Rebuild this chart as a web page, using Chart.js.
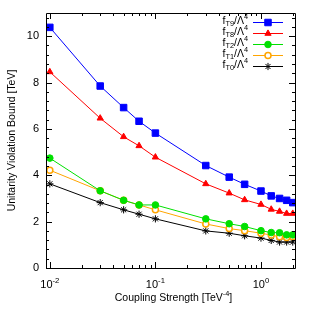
<!DOCTYPE html>
<html>
<head>
<meta charset="utf-8">
<script src="https://cdn.jsdelivr.net/npm/chart.js@4/dist/chart.umd.min.js"></script>
<style>
  html, body { margin: 0; padding: 0; background: #fff; }
  canvas { display: block; }
</style>
</head>
<body>
<canvas id="chart" width="314" height="314"></canvas>
<script>
// Data
var couplings = [0.01, 0.03, 0.05, 0.07, 0.1, 0.3, 0.5, 0.7, 1.0, 1.25, 1.5, 1.75, 2.0];
var boundT9 = [10.38, 7.85, 6.92, 6.33, 5.82, 4.42, 3.92, 3.61, 3.32, 3.11, 3.00, 2.92, 2.82];
var boundT8 = [8.46, 6.46, 5.66, 5.27, 4.78, 3.63, 3.23, 2.94, 2.74, 2.53, 2.44, 2.35, 2.35];
var boundT2 = [4.74, 3.33, 2.92, 2.72, 2.72, 2.12, 1.91, 1.79, 1.61, 1.53, 1.52, 1.43, 1.43];
var boundT1 = [4.22, 3.33, 2.92, 2.72, 2.51, 1.90, 1.70, 1.61, 1.50, 1.42, 1.35, 1.32, 1.35];
var boundT0 = [3.63, 2.82, 2.51, 2.32, 2.12, 1.60, 1.50, 1.39, 1.29, 1.19, 1.12, 1.12, 1.12];

var seriesNames = ['T9', 'T8', 'T2', 'T1', 'T0'];
var xTicks = [0.01, 0.1, 1];
var xTickExp = ['-2', '-1', '0'];
var yTicks = [0, 2, 4, 6, 8, 10];

var FONT = '"Liberation Sans", Arial, Helvetica, sans-serif';

function pts(ys) {
  return couplings.map(function(x, i) { return { x: x, y: ys[i] }; });
}

var styles = [
  { color: '#0000ff', fill: '#0000ff', style: 'rect', r: 4.6, bw: 1 },
  { color: '#ff0000', fill: '#ff0000', style: 'triangle', r: 3.6, bw: 1 },
  { color: '#00e000', fill: '#00e000', style: 'circle', r: 3.3, bw: 1 },
  { color: '#ffa500', fill: '#ffffff', style: 'circle', r: 3, bw: 1.5 },
  { color: '#000000', fill: '#000000', style: 'star', r: 3.6, bw: 1 }
];
var allBounds = [boundT9, boundT8, boundT2, boundT1, boundT0];

var datasets = allBounds.map(function(ys, i) {
  var s = styles[i];
  return {
    label: 'f' + seriesNames[i],
    data: pts(ys),
    showLine: true,
    borderColor: s.color,
    backgroundColor: s.fill,
    borderWidth: 1,
    pointStyle: s.style,
    pointRadius: s.r,
    pointBorderColor: s.color,
    pointBackgroundColor: s.fill,
    pointBorderWidth: s.bw
  };
});

// draw text with sub/superscript pieces: parts = [[text, 'n'|'sub'|'sup'], ...]
function measureParts(ctx, parts, size) {
  var w = 0;
  parts.forEach(function(p) {
    ctx.font = (p[1] === 'n' ? size : size * 0.7) + 'px ' + FONT;
    w += ctx.measureText(p[0]).width;
  });
  return w;
}
function drawParts(ctx, parts, x, y, size) {
  parts.forEach(function(p) {
    var sz = p[1] === 'n' ? size : size * 0.7;
    var dy = p[1] === 'sub' ? size * 0.3 : (p[1] === 'sup' ? -size * 0.38 : 0);
    ctx.font = sz + 'px ' + FONT;
    ctx.fillText(p[0], x, y + dy);
    x += ctx.measureText(p[0]).width;
  });
}

var framePlugin = {
  id: 'gnuplotFrame',
  afterDraw: function(chart) {
    var ctx = chart.ctx;
    var a = chart.chartArea;
    var xs = chart.scales.x, ys = chart.scales.y;
    ctx.save();
    ctx.strokeStyle = '#000';
    ctx.lineWidth = 1;
    ctx.beginPath();
    ctx.rect(Math.round(a.left) + 0.5, Math.round(a.top) + 0.5,
             Math.round(a.right - a.left), Math.round(a.bottom - a.top));
    ctx.stroke();

    // log x ticks, inside, mirrored
    ctx.beginPath();
    for (var d = -3; d <= 1; d++) {
      for (var k = 1; k <= 9; k++) {
        var v = k * Math.pow(10, d);
        if (v < xs.min || v > xs.max) continue;
        var px = Math.round(xs.getPixelForValue(v)) + 0.5;
        var len = k === 1 ? 6 : 3;
        ctx.moveTo(px, a.bottom); ctx.lineTo(px, a.bottom - len);
        ctx.moveTo(px, a.top); ctx.lineTo(px, a.top + len);
      }
    }
    // y ticks every 0.4, major every 2
    for (var j = 0; j * 0.4 <= ys.max + 1e-6; j++) {
      var py = Math.round(ys.getPixelForValue(j * 0.4)) + 0.5;
      var l = j % 5 === 0 ? 6 : 3;
      ctx.moveTo(a.left, py); ctx.lineTo(a.left + l, py);
      ctx.moveTo(a.right, py); ctx.lineTo(a.right - l, py);
    }
    ctx.stroke();

    // tick labels
    ctx.fillStyle = '#000';
    ctx.textBaseline = 'middle';
    ctx.textAlign = 'right';
    ctx.font = '11px ' + FONT;
    yTicks.forEach(function(v) {
      ctx.fillText(String(v), a.left - 7, ys.getPixelForValue(v));
    });
    ctx.textAlign = 'left';
    xTicks.forEach(function(v, i) {
      var parts = [['10', 'n'], [xTickExp[i], 'sup']];
      var w = measureParts(ctx, parts, 11);
      drawParts(ctx, parts, xs.getPixelForValue(v) - w / 2, a.bottom + 17, 11);
    });

    // axis titles
    var xt = [['Coupling Strength [TeV', 'n'], ['-4', 'sup'], [']', 'n']];
    var xw = measureParts(ctx, xt, 10.5);
    drawParts(ctx, xt, (a.left + a.right) / 2 - xw / 2 + 3, 298, 10.5);

    ctx.save();
    ctx.translate(12, (a.top + a.bottom) / 2);
    ctx.rotate(-Math.PI / 2);
    ctx.textAlign = 'center';
    ctx.font = '10.5px ' + FONT;
    ctx.fillText('Unitarity Violation Bound [TeV]', 0, 0);
    ctx.restore();

    // legend
    chart.data.datasets.forEach(function(ds, i) {
      var yy = 22 + i * 11;
      var parts = [['f', 'n'], [seriesNames[i], 'sub'], ['/\u039B', 'n'], ['4', 'sup']];
      var w = measureParts(ctx, parts, 10.5);
      ctx.fillStyle = '#000';
      ctx.textAlign = 'left';
      drawParts(ctx, parts, 248 - w, yy - 1, 10.5);
      ctx.strokeStyle = ds.borderColor;
      ctx.lineWidth = 1;
      ctx.beginPath();
      ctx.moveTo(253, yy + 0.5); ctx.lineTo(283, yy + 0.5);
      ctx.stroke();
      ctx.fillStyle = ds.pointBackgroundColor;
      ctx.strokeStyle = ds.pointBorderColor;
      ctx.lineWidth = ds.pointBorderWidth;
      Chart.helpers.drawPoint(ctx, { pointStyle: ds.pointStyle, radius: ds.pointRadius, borderWidth: ds.pointBorderWidth, rotation: 0 }, 268, yy + 0.5);
    });
    ctx.restore();
  }
};

new Chart(document.getElementById('chart'), {
  type: 'scatter',
  data: { datasets: datasets },
  options: {
    responsive: false,
    animation: false,
    layout: { padding: { top: 13, right: 19, left: 0, bottom: 0 } },
    plugins: { legend: { display: false }, tooltip: { enabled: false } },
    scales: {
      x: {
        type: 'logarithmic',
        min: 0.0092,
        max: 2.1,
        grid: { display: false },
        border: { display: false },
        ticks: { display: false },
        afterFit: function(s) { s.height = 46; }
      },
      y: {
        min: 0,
        max: 11,
        grid: { display: false },
        border: { display: false },
        ticks: { display: false },
        afterFit: function(s) { s.height; s.width = 46; }
      }
    }
  },
  plugins: [framePlugin]
});
</script>
</body>
</html>
